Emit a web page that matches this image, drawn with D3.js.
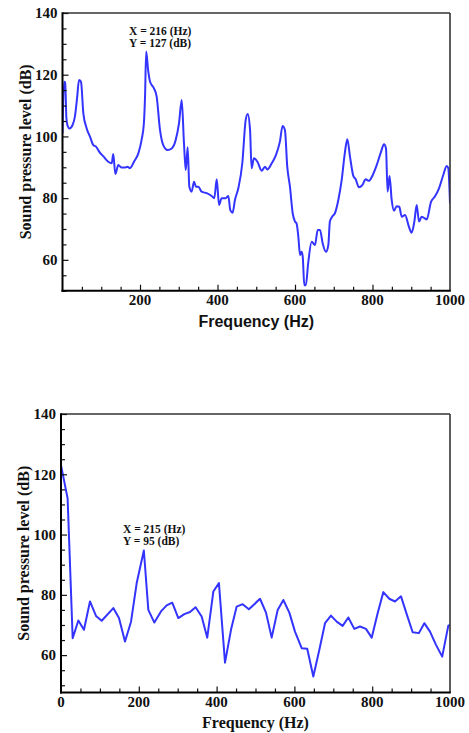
<!DOCTYPE html>
<html>
<head>
<meta charset="utf-8">
<script src="https://cdn.jsdelivr.net/npm/d3@7"></script>
<style>
  html, body { margin: 0; padding: 0; background: #fff; }
  svg { display: block; }
</style>
</head>
<body>
<svg id="chart" width="469" height="733"></svg>
<script>
// ---------- DATA ----------
const topFreq = [0,4,7,10,13,18,26,32,38,42.6,47.7,53.8,62.4,71,79.5,86.5,95,105,118,127,131,136.3,144,152.7,161,168,174,184.5,195.7,204,210,213,216,221,226,236,243,251.6,260,271.5,281.8,292,300.6,307.6,313.5,318,323,327.3,333.3,339.4,344.5,350.5,359,372,385,391.7,398,404,410.8,421,428,433,439,445,453.7,464,472.7,478,484,488,494,503,514,522.6,528.6,540,551,561,568,574,580,587,594,600,604,608.6,613,617,620,624,628,634,643,651.6,658.6,664.5,671.5,680,686,690,696,703,711.8,720.5,729,735,742,750.5,756.6,765,773.7,782.4,791,799.5,810.8,822,829.7,834.8,839,844,849.5,855.5,862.4,869,875.4,884,894,901,908,914,920,927,940,951,961,971.6,982.7,991.5,995.6,1000];
const topSpl  = [101,117.7,117.5,106,103.5,102.6,103.7,106.4,112.9,118.3,117.7,107.5,102.6,99.9,97.2,96.7,95,93.6,91.8,91.3,94.3,87.8,90.7,89.9,89.9,90.2,89.7,91.8,94.5,98.8,104.2,112.9,127.5,121.5,117.7,115.6,112.9,102.1,97.2,95.6,96.1,98.8,104.2,111.8,97.8,89.1,96.5,83.7,82.1,85.3,83.7,83.7,82.1,81.6,80.7,80,86.1,77.8,80,80,80.7,76.1,75.3,79.4,83.2,91.3,105.3,107.3,102.1,89.7,92.9,91.8,88.9,90.2,89.3,91.3,94,98.3,103.4,102.1,90.2,83.7,75.1,72.4,71.8,67.5,61.6,62.6,61,51.8,51.8,58.9,65.9,64.8,69.7,69.7,65.3,62.6,64.8,72.4,74,75.1,79.4,85.9,95,99.1,93.4,87.2,86.1,83.5,84.2,86.1,85.6,87.2,90.7,95,97.5,96.1,82.1,87.2,79.4,75.9,77.4,77.2,74,74.5,70.7,68.8,72.4,77.8,72.4,74,73.1,78.8,80.5,83.2,87.5,90.4,89.7,78.3];

const botFreq = [0,17,30,44.6,59,74.5,90,104.6,134.5,149,164.5,180,194.6,213,224.5,240,257,271.6,286,301.6,317,331.6,346,361.6,376,391.6,406,421.6,437,451.6,467,483,497,511.6,527,541.6,557,571.6,587,601.5,618.7,633,648.6,664,678.7,694,708.7,724,738.6,754,768.6,784,798.7,814,828.6,844,858.6,874,888.7,904,920,934,948.6,964,980,995.6,1000];
const botSpl  = [123,112,65.6,71.5,68.4,77.8,73,71.4,75.6,72.3,64.5,71.1,83.9,94.7,75,70.8,74.5,76.5,77.4,72.3,73.6,74.3,75.9,72.8,65.8,81.1,83.9,57.5,68.4,76.1,76.9,75.2,76.9,78.7,74.1,65.8,75,78.3,74.1,67.8,62.3,62.1,52.9,61.7,70.6,73.1,71.1,69.7,72.5,68.7,69.5,68.7,65.8,73.9,80.9,78.7,77.8,79.5,73.6,67.6,67.3,70.6,67.8,63.4,59.5,69.8,70];

const yMajorTicks = [60, 80, 100, 120, 140];
const yMinorTicks = [50, 55, 65, 70, 75, 85, 90, 95, 105, 110, 115, 125, 130, 135];
const xMajorTicksTop = [200, 400, 600, 800, 1000];
const xMajorTicksBot = [0, 200, 400, 600, 800, 1000];
const xMinorTicks = [50, 100, 150, 250, 300, 350, 450, 500, 550, 650, 700, 750, 850, 900, 950];

const topAnnot = ["X = 216 (Hz)", "Y = 127 (dB)"];
const botAnnot = ["X = 215 (Hz)", "Y = 95 (dB)"];

// ---------- DRAW ----------
const svg = d3.select("#chart");
const serif = "'Liberation Serif', 'Times New Roman', serif";
const sans = "'Liberation Sans', Arial, sans-serif";
const lineColor = "#3434ff";

function panel(cfg) {
  const x = d3.scaleLinear().domain([0, 1000]).range([cfg.left, cfg.right]);
  const y = d3.scaleLinear().domain([cfg.yMin, 140]).range([cfg.bottom, cfg.top]);
  const g = svg.append("g");

  const clipId = "clip" + cfg.id;
  svg.append("clipPath").attr("id", clipId).append("rect")
    .attr("x", cfg.left).attr("y", cfg.top)
    .attr("width", cfg.right - cfg.left).attr("height", cfg.bottom - cfg.top);

  // data line
  const pts = cfg.freq.map((f, i) => [f, cfg.spl[i]]);
  g.append("path")
    .datum(pts)
    .attr("clip-path", `url(#${clipId})`)
    .attr("fill", "none")
    .attr("stroke", lineColor)
    .attr("stroke-width", 2)
    .attr("stroke-linejoin", "round")
    .attr("d", d3.line().x(d => x(d[0])).y(d => y(d[1])).curve(cfg.curve));

  // frame top & right
  g.append("line").attr("x1", cfg.left).attr("x2", cfg.right).attr("y1", cfg.top).attr("y2", cfg.top)
    .attr("stroke", "#333").attr("stroke-width", 1.6);
  g.append("line").attr("x1", cfg.right).attr("x2", cfg.right).attr("y1", cfg.top).attr("y2", cfg.bottom)
    .attr("stroke", "#333").attr("stroke-width", 1.6);

  // left axis (ticks inward)
  const yAxisMajor = d3.axisRight(y).tickValues(yMajorTicks).tickSize(6).tickFormat("");
  const yAxisMinor = d3.axisRight(y).tickValues(yMinorTicks).tickSize(4).tickFormat("");
  const ya = g.append("g").attr("transform", `translate(${cfg.left},0)`).call(yAxisMajor);
  const ym = g.append("g").attr("transform", `translate(${cfg.left},0)`).call(yAxisMinor);
  [ya, ym].forEach(s => { s.select(".domain").remove(); s.selectAll("line").attr("stroke", "#111").attr("stroke-width", 1.2); });
  g.append("line").attr("x1", cfg.left).attr("x2", cfg.left).attr("y1", cfg.top - 0.8).attr("y2", cfg.bottom + 1)
    .attr("stroke", "#000").attr("stroke-width", 2);
  g.selectAll(".ylab").data(yMajorTicks).enter().append("text")
    .attr("x", cfg.left - 5).attr("y", d => y(d)).attr("dy", "0.35em")
    .attr("text-anchor", "end").attr("font-family", serif).attr("font-weight", "bold")
    .attr("font-size", 15).attr("fill", "#111").text(d => d);

  // bottom axis (ticks inward)
  const xAxisMajor = d3.axisTop(x).tickValues(cfg.xTicks.filter(d => d > 0 && d < 1000)).tickSize(6).tickFormat("");
  const xAxisMinor = d3.axisTop(x).tickValues(xMinorTicks).tickSize(4).tickFormat("");
  const xa = g.append("g").attr("transform", `translate(0,${cfg.bottom})`).call(xAxisMajor);
  const xm = g.append("g").attr("transform", `translate(0,${cfg.bottom})`).call(xAxisMinor);
  [xa, xm].forEach(s => { s.select(".domain").remove(); s.selectAll("line").attr("stroke", "#111").attr("stroke-width", 1.2); });
  g.append("line").attr("x1", cfg.left - 1).attr("x2", cfg.right + 0.8).attr("y1", cfg.bottom).attr("y2", cfg.bottom)
    .attr("stroke", "#000").attr("stroke-width", 2);
  g.selectAll(".xlab").data(cfg.xTicks).enter().append("text")
    .attr("x", d => x(d)).attr("y", cfg.bottom + 14.5)
    .attr("text-anchor", "middle").attr("font-family", serif).attr("font-weight", "bold")
    .attr("font-size", 15).attr("fill", "#111").text(d => d);

  // axis titles
  g.append("text")
    .attr("transform", `translate(${cfg.yTitleX},${(cfg.top + cfg.bottom) / 2}) rotate(-90)`)
    .attr("text-anchor", "middle").attr("dy", "0.35em")
    .attr("font-family", serif).attr("font-weight", "bold").attr("font-size", 16).attr("fill", "#111")
    .text("Sound pressure level (dB)");
  g.append("text")
    .attr("x", (cfg.left + cfg.right) / 2).attr("y", cfg.xTitleY)
    .attr("text-anchor", "middle")
    .attr("font-family", cfg.xTitleFont).attr("font-weight", "bold").attr("font-size", 16).attr("fill", "#111")
    .text("Frequency (Hz)");

  // annotation
  g.selectAll(".ann").data(cfg.annot).enter().append("text")
    .attr("x", cfg.annX).attr("y", (d, i) => cfg.annY + i * 11.5)
    .attr("font-family", serif).attr("font-weight", "bold").attr("font-size", 11.5).attr("fill", "#111")
    .text(d => d);
}

panel({
  id: "top", left: 62.5, right: 450, top: 13, bottom: 290.7, yMin: 50,
  freq: topFreq, spl: topSpl, xTicks: xMajorTicksTop, curve: d3.curveMonotoneX,
  yTitleX: 25, xTitleY: 327, xTitleFont: sans,
  annot: topAnnot, annX: 129, annY: 35
});

panel({
  id: "bot", left: 61, right: 450, top: 414, bottom: 692.5, yMin: 47.6,
  freq: botFreq, spl: botSpl, xTicks: xMajorTicksBot, curve: d3.curveLinear,
  yTitleX: 23, xTitleY: 728, xTitleFont: serif,
  annot: botAnnot, annX: 123, annY: 533
});
</script>
</body>
</html>
